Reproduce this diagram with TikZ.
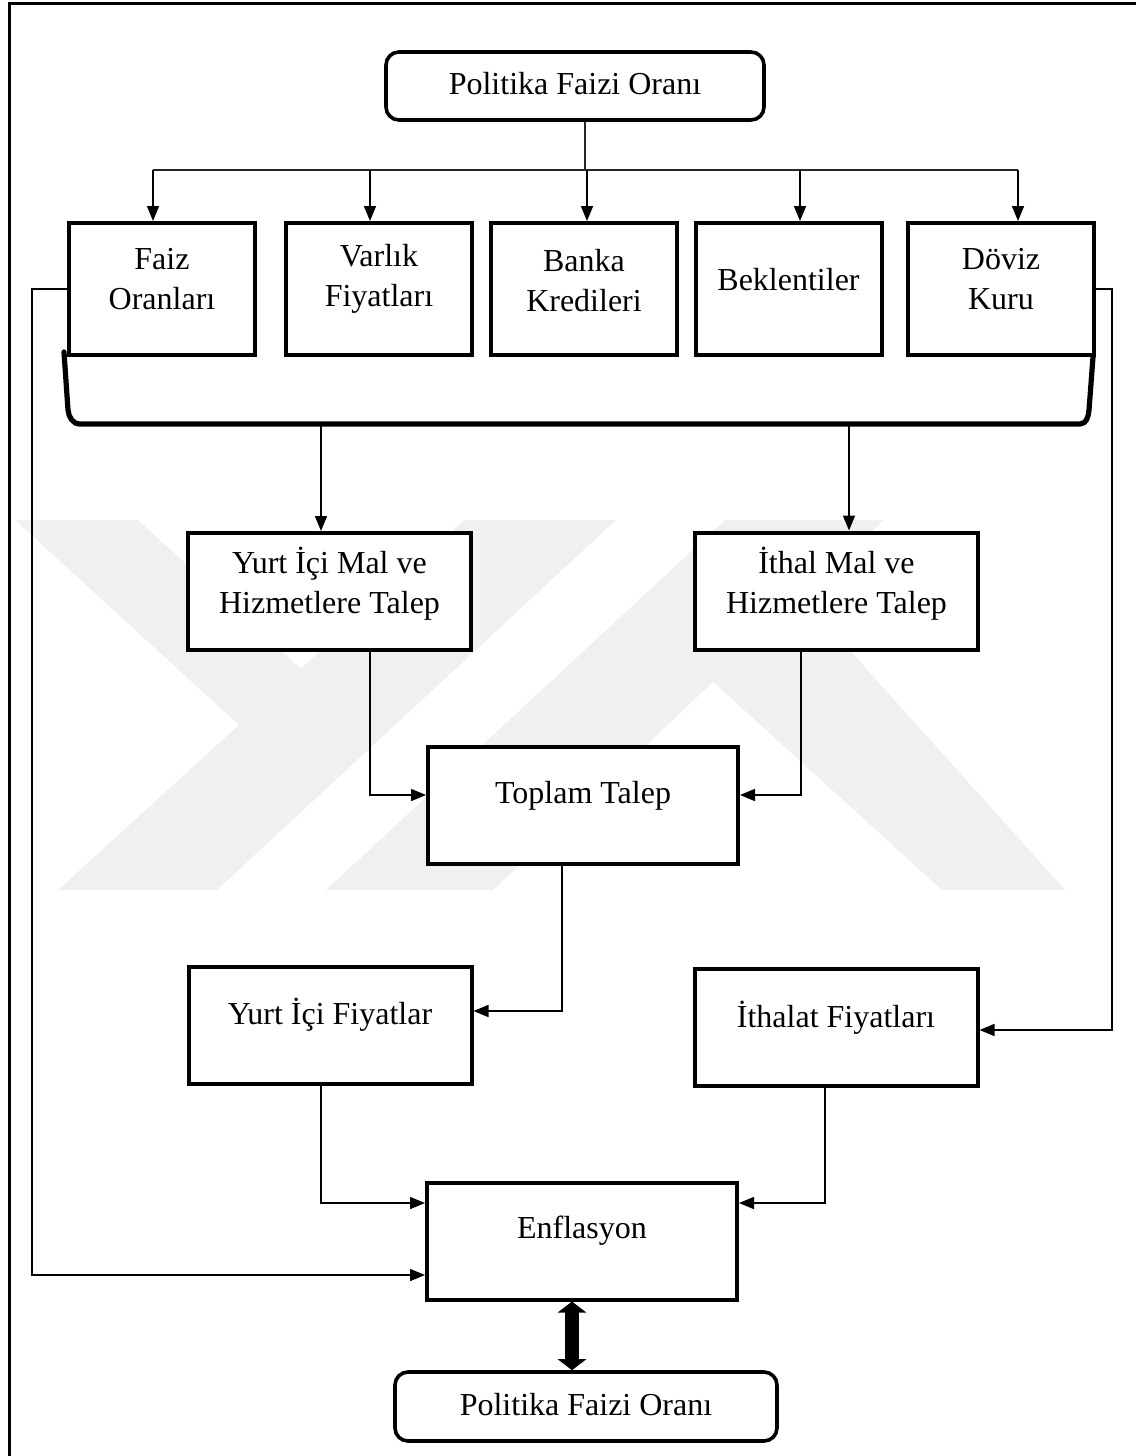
\documentclass[tikz,border=0pt]{standalone}
\usepackage{fontspec}
\setmainfont{Liberation Serif}
\usetikzlibrary{arrows.meta}
\begin{document}
\begin{tikzpicture}[x=0.5pt,y=-0.5pt,
  box/.style={draw, line width=2pt, inner sep=0pt, fill=white},
  topbox/.style={box, minimum width=93pt, minimum height=66pt},
  midbox/.style={box, minimum width=141.5pt, minimum height=58.5pt},
  cenbox/.style={box, minimum width=155pt, minimum height=58.5pt},
  rbox/.style={draw, line width=1.8pt, rounded corners=6.5pt, inner sep=0pt, fill=white,
    minimum width=189pt, minimum height=34pt},
  lbl/.style={align=center, inner sep=0pt, font=\fontsize{16}{20}\selectfont},
  conn/.style={line width=0.8pt, -{Triangle[width=6pt,length=7.5pt]}},
  bus/.style={line width=0.6pt, black!85},
  brace/.style={line width=2.6pt, line join=round, line cap=round},
  dbl/.style={line width=7pt, {Triangle[width=14pt,length=5.5pt]}-{Triangle[width=14pt,length=5.5pt]}},
  wm/.style={fill=black!6, draw=none},
]
\useasboundingbox (0,0) rectangle (1136,1456);

% faint background emblem
\fill[wm] (15,520) -- (138,520) -- (301,669) -- (239,725) -- cycle;
\fill[wm] (464,520) -- (616,520) -- (217,890) -- (58,890) -- cycle;
\fill[wm] (725,520) -- (884,520) -- (493,890) -- (326,890) -- cycle;
\fill[wm] (709,678) -- (800,595) -- (1065,890) -- (942,890) -- cycle;

% page frame
\draw[line width=1.5pt] (9,1456) -- (9,3) -- (1136,3);

% boxes
\node[rbox] (top) at (575,86) {};
\node[lbl] (topT) at (575,84) {Politika Faizi Oranı};

\node[topbox] (faiz)  at (162,289) {};
\node[topbox] (varl)  at (379,289) {};
\node[topbox] (banka) at (584,289) {};
\node[topbox] (bekl)  at (788.5,289) {};
\node[topbox] (doviz) at (1001,289) {};
\node[lbl] (faizT)  at (162,279) {Faiz\\Oranları};
\node[lbl] (varlT)  at (379,279) {Varlık\\Fiyatları};
\node[lbl] (bankaT) at (584,281) {Banka\\Kredileri};
\node[lbl] (beklT)  at (788.5,280) {Beklentiler};
\node[lbl] (dovizT) at (1001,279) {Döviz\\Kuru};

\node[midbox] (yurt)  at (329.5,591.5) {};
\node[midbox] (ithal) at (836.5,591) {};
\node[lbl] (yurtT)  at (329.5,584) {Yurt İçi Mal ve\\Hizmetlere Talep};
\node[lbl] (ithalT) at (836.5,584) {İthal Mal ve\\Hizmetlere Talep};

\node[cenbox] (toplam) at (583,805.5) {};
\node[lbl] (toplamT) at (583,796) {Toplam Talep};

\node[midbox] (yfiyat) at (330,1025) {};
\node[midbox] (ifiyat) at (836,1027) {};
\node[lbl] (yfiyatT) at (330,1015) {Yurt İçi Fiyatlar};
\node[lbl] (ifiyatT) at (836,1018) {İthalat Fiyatları};

\node[cenbox] (enf) at (582,1241) {};
\node[lbl] (enfT) at (582,1231) {Enflasyon};

\node[rbox, minimum width=191pt, minimum height=34.5pt] (bot) at (586,1406.5) {};
\node[lbl] (botT) at (586,1405) {Politika Faizi Oranı};

% distribution bus under the policy rate
\coordinate (busc) at (585,170);
\coordinate (bus1) at (153,170);
\coordinate (bus2) at (370,170);
\coordinate (bus3) at (587,170);
\coordinate (bus4) at (800,170);
\coordinate (bus5) at (1018,170);
\draw[bus] (busc |- top.south) -- (busc);
\draw[bus] (bus1) -- (bus5);
\draw[conn] (bus1) -- (bus1 |- faiz.north);
\draw[conn] (bus2) -- (bus2 |- varl.north);
\draw[conn] (bus3) -- (bus3 |- banka.north);
\draw[conn] (bus4) -- (bus4 |- bekl.north);
\draw[conn] (bus5) -- (bus5 |- doviz.north);

% bracket gathering the five channels
\draw[brace] (64,352) -- (68,410) to[out=-85,in=180] (80,424) -- (1080,424)
  to[out=0,in=-95] (1089,410) -- (1093,357);
\coordinate (brL) at (321,424);
\coordinate (brR) at (849,424);
\draw[conn] (brL) -- (brL |- yurt.north);
\draw[conn] (brR) -- (brR |- ithal.north);

% demand to total demand
\coordinate (ya) at (370,795);
\coordinate (ia) at (801,795);
\draw[conn] (ya |- yurt.south) -- (ya) -- (ya -| toplam.west);
\draw[conn] (ia |- ithal.south) -- (ia) -- (ia -| toplam.east);

% total demand to domestic prices
\coordinate (tb) at (562,1011);
\draw[conn] (tb |- toplam.south) -- (tb) -- (tb -| yfiyat.east);

% prices to inflation
\coordinate (yb) at (321,1203);
\coordinate (ib) at (825,1203);
\draw[conn] (yb |- yfiyat.south) -- (yb) -- (yb -| enf.west);
\draw[conn] (ib |- ifiyat.south) -- (ib) -- (ib -| enf.east);

% interest rates straight to inflation
\coordinate (lf) at (32,1275);
\draw[conn] (faiz.west) -- (faiz.west -| lf) -- (lf) -- (lf -| enf.west);

% exchange rate to import prices
\coordinate (rd) at (1112,1030);
\draw[conn] (doviz.east) -- (doviz.east -| rd) -- (rd) -- (rd -| ifiyat.east);

% feedback between inflation and policy rate
\coordinate (fb) at (572,0);
\draw[dbl] (fb |- enf.south) -- (fb |- bot.north);
\end{tikzpicture}
\end{document}
